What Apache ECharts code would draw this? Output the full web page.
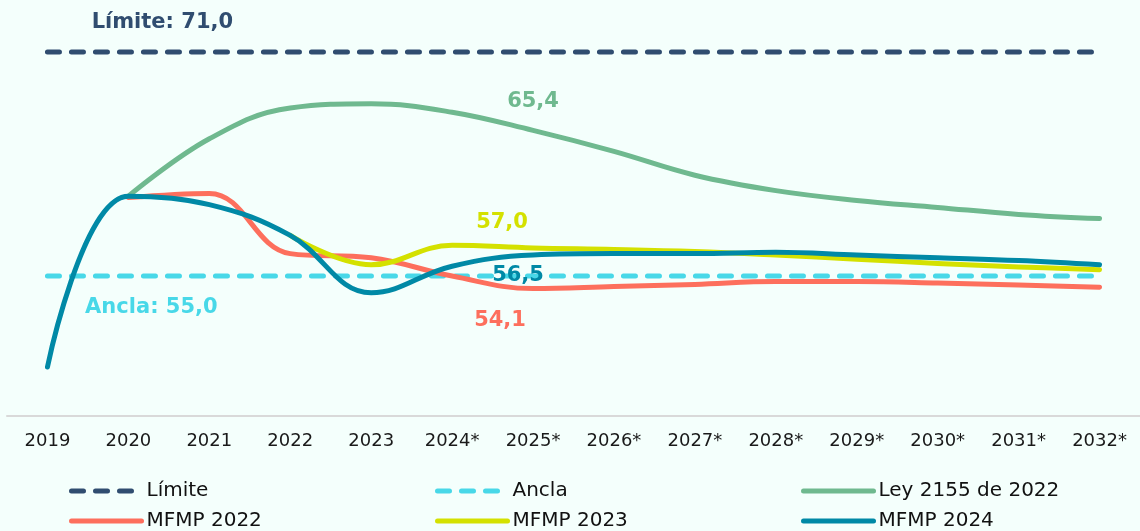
<!DOCTYPE html>
<html>
<head>
<meta charset="utf-8">
<script src="https://cdn.jsdelivr.net/npm/echarts@6/dist/echarts.min.js"></script>
<style>
    html, body { margin: 0; padding: 0; background: #f4fffc; }
    #deuda_chart { width: 1140px; height: 531px; }
</style>
</head>
<body>
<div id="deuda_chart"></div>
<script>
// categorias (años)
var years = ['2019', '2020', '2021', '2022', '2023', '2024*', '2025*', '2026*', '2027*', '2028*', '2029*', '2030*', '2031*', '2032*'];

// referencias
var limite = [71.0, 71.0, 71.0, 71.0, 71.0, 71.0, 71.0, 71.0, 71.0, 71.0, 71.0, 71.0, 71.0, 71.0];
var ancla = [55.0, 55.0, 55.0, 55.0, 55.0, 55.0, 55.0, 55.0, 55.0, 55.0, 55.0, 55.0, 55.0, 55.0];

// trayectorias
var ley2155 = [null, 60.7, 64.8, 67.0, 67.3, 66.7, 65.4, 63.9, 62.2, 61.1, 60.4, 59.9, 59.4, 59.1];
var mfmp2022 = [null, 60.6, 60.9, 56.6, 56.3, 55.0, 54.1, 54.25, 54.4, 54.6, 54.6, 54.5, 54.35, 54.2];
var mfmp2023 = [null, null, null, 57.9, 55.8, 57.2, 57.0, 56.9, 56.75, 56.5, 56.2, 55.9, 55.65, 55.45];
var mfmp2024 = [48.5, 60.7, 60.1, 57.9, 53.8, 55.7, 56.5, 56.6, 56.6, 56.7, 56.5, 56.3, 56.1, 55.8];

var fontName = 'DejaVu Sans';

// pone la etiqueta solo en un punto
function withLabel(values, idx, text, color, offset) {
    return values.map(function(v, i) {
        if (i !== idx) return v;
        return {
            value: v,
            symbol: 'circle',
            symbolSize: 0,
            label: {
                show: true,
                position: 'inside',
                offset: offset,
                formatter: text,
                color: color,
                fontFamily: fontName,
                fontWeight: 'bold',
                fontSize: 21
            }
        };
    });
}

function lineSerie(name, data, color, dashed) {
    return {
        name: name,
        type: 'line',
        data: data,
        smooth: dashed ? false : 0.4,
        symbol: 'none',
        connectNulls: false,
        silent: true,
        z: dashed ? 1 : 2,
        lineStyle: {
            color: color,
            width: 5,
            type: dashed ? [12, 12] : 'solid',
            cap: 'round',
            join: 'round'
        },
        itemStyle: { color: color },
        emphasis: { disabled: true }
    };
}

// una leyenda por item, para la grilla de 3 columnas
function legendItem(name, left, top) {
    return {
        data: [name],
        left: left,
        top: top,
        padding: 0,
        itemWidth: 70,
        itemHeight: 14,
        itemStyle: { opacity: 0 },
        lineStyle: { width: 5, cap: 'round' },
        textStyle: { color: '#111', fontFamily: fontName, fontSize: 20 }
    };
}

var myChart = echarts.init(document.getElementById('deuda_chart'));

var option = {
    backgroundColor: '#f4fffc',
    animation: false,
    grid: { left: 7, right: -6, top: 24, bottom: 115 },
    xAxis: {
        type: 'category',
        data: years,
        boundaryGap: true,
        axisTick: { show: false },
        axisLine: { lineStyle: { color: '#d9d9d9', width: 2 } },
        axisLabel: { color: '#1a1a1a', fontFamily: fontName, fontSize: 18, margin: 16 }
    },
    yAxis: {
        type: 'value',
        min: 45,
        max: 73,
        show: false,
        splitLine: { show: false }
    },
    legend: [
        legendItem('Límite', 69, 481),
        legendItem('MFMP 2022', 69, 511),
        legendItem('Ancla', 435, 481),
        legendItem('MFMP 2023', 435, 511),
        legendItem('Ley 2155 de 2022', 801, 481),
        legendItem('MFMP 2024', 801, 511)
    ],
    series: [
        lineSerie('Límite', withLabel(limite, 1, 'Límite: 71,0', '#304d70', [34, -29]), '#304d70', true),
        lineSerie('Ancla', withLabel(ancla, 1, 'Ancla: 55,0', '#48d8e8', [23, 32]), '#48d8e8', true),
        lineSerie('Ley 2155 de 2022', withLabel(ley2155, 6, '65,4', '#6fb98f', [0, -29]), '#6fb98f', false),
        lineSerie('MFMP 2022', withLabel(mfmp2022, 6, '54,1', '#fd6f5d', [-33, 32]), '#fd6f5d', false),
        lineSerie('MFMP 2023', withLabel(mfmp2023, 6, '57,0', '#d4e100', [-31, -25]), '#d4e100', false),
        lineSerie('MFMP 2024', withLabel(mfmp2024, 6, '56,5', '#0089a6', [-15, 21]), '#0089a6', false)
    ]
};
myChart.setOption(option);
</script>
</body>
</html>
